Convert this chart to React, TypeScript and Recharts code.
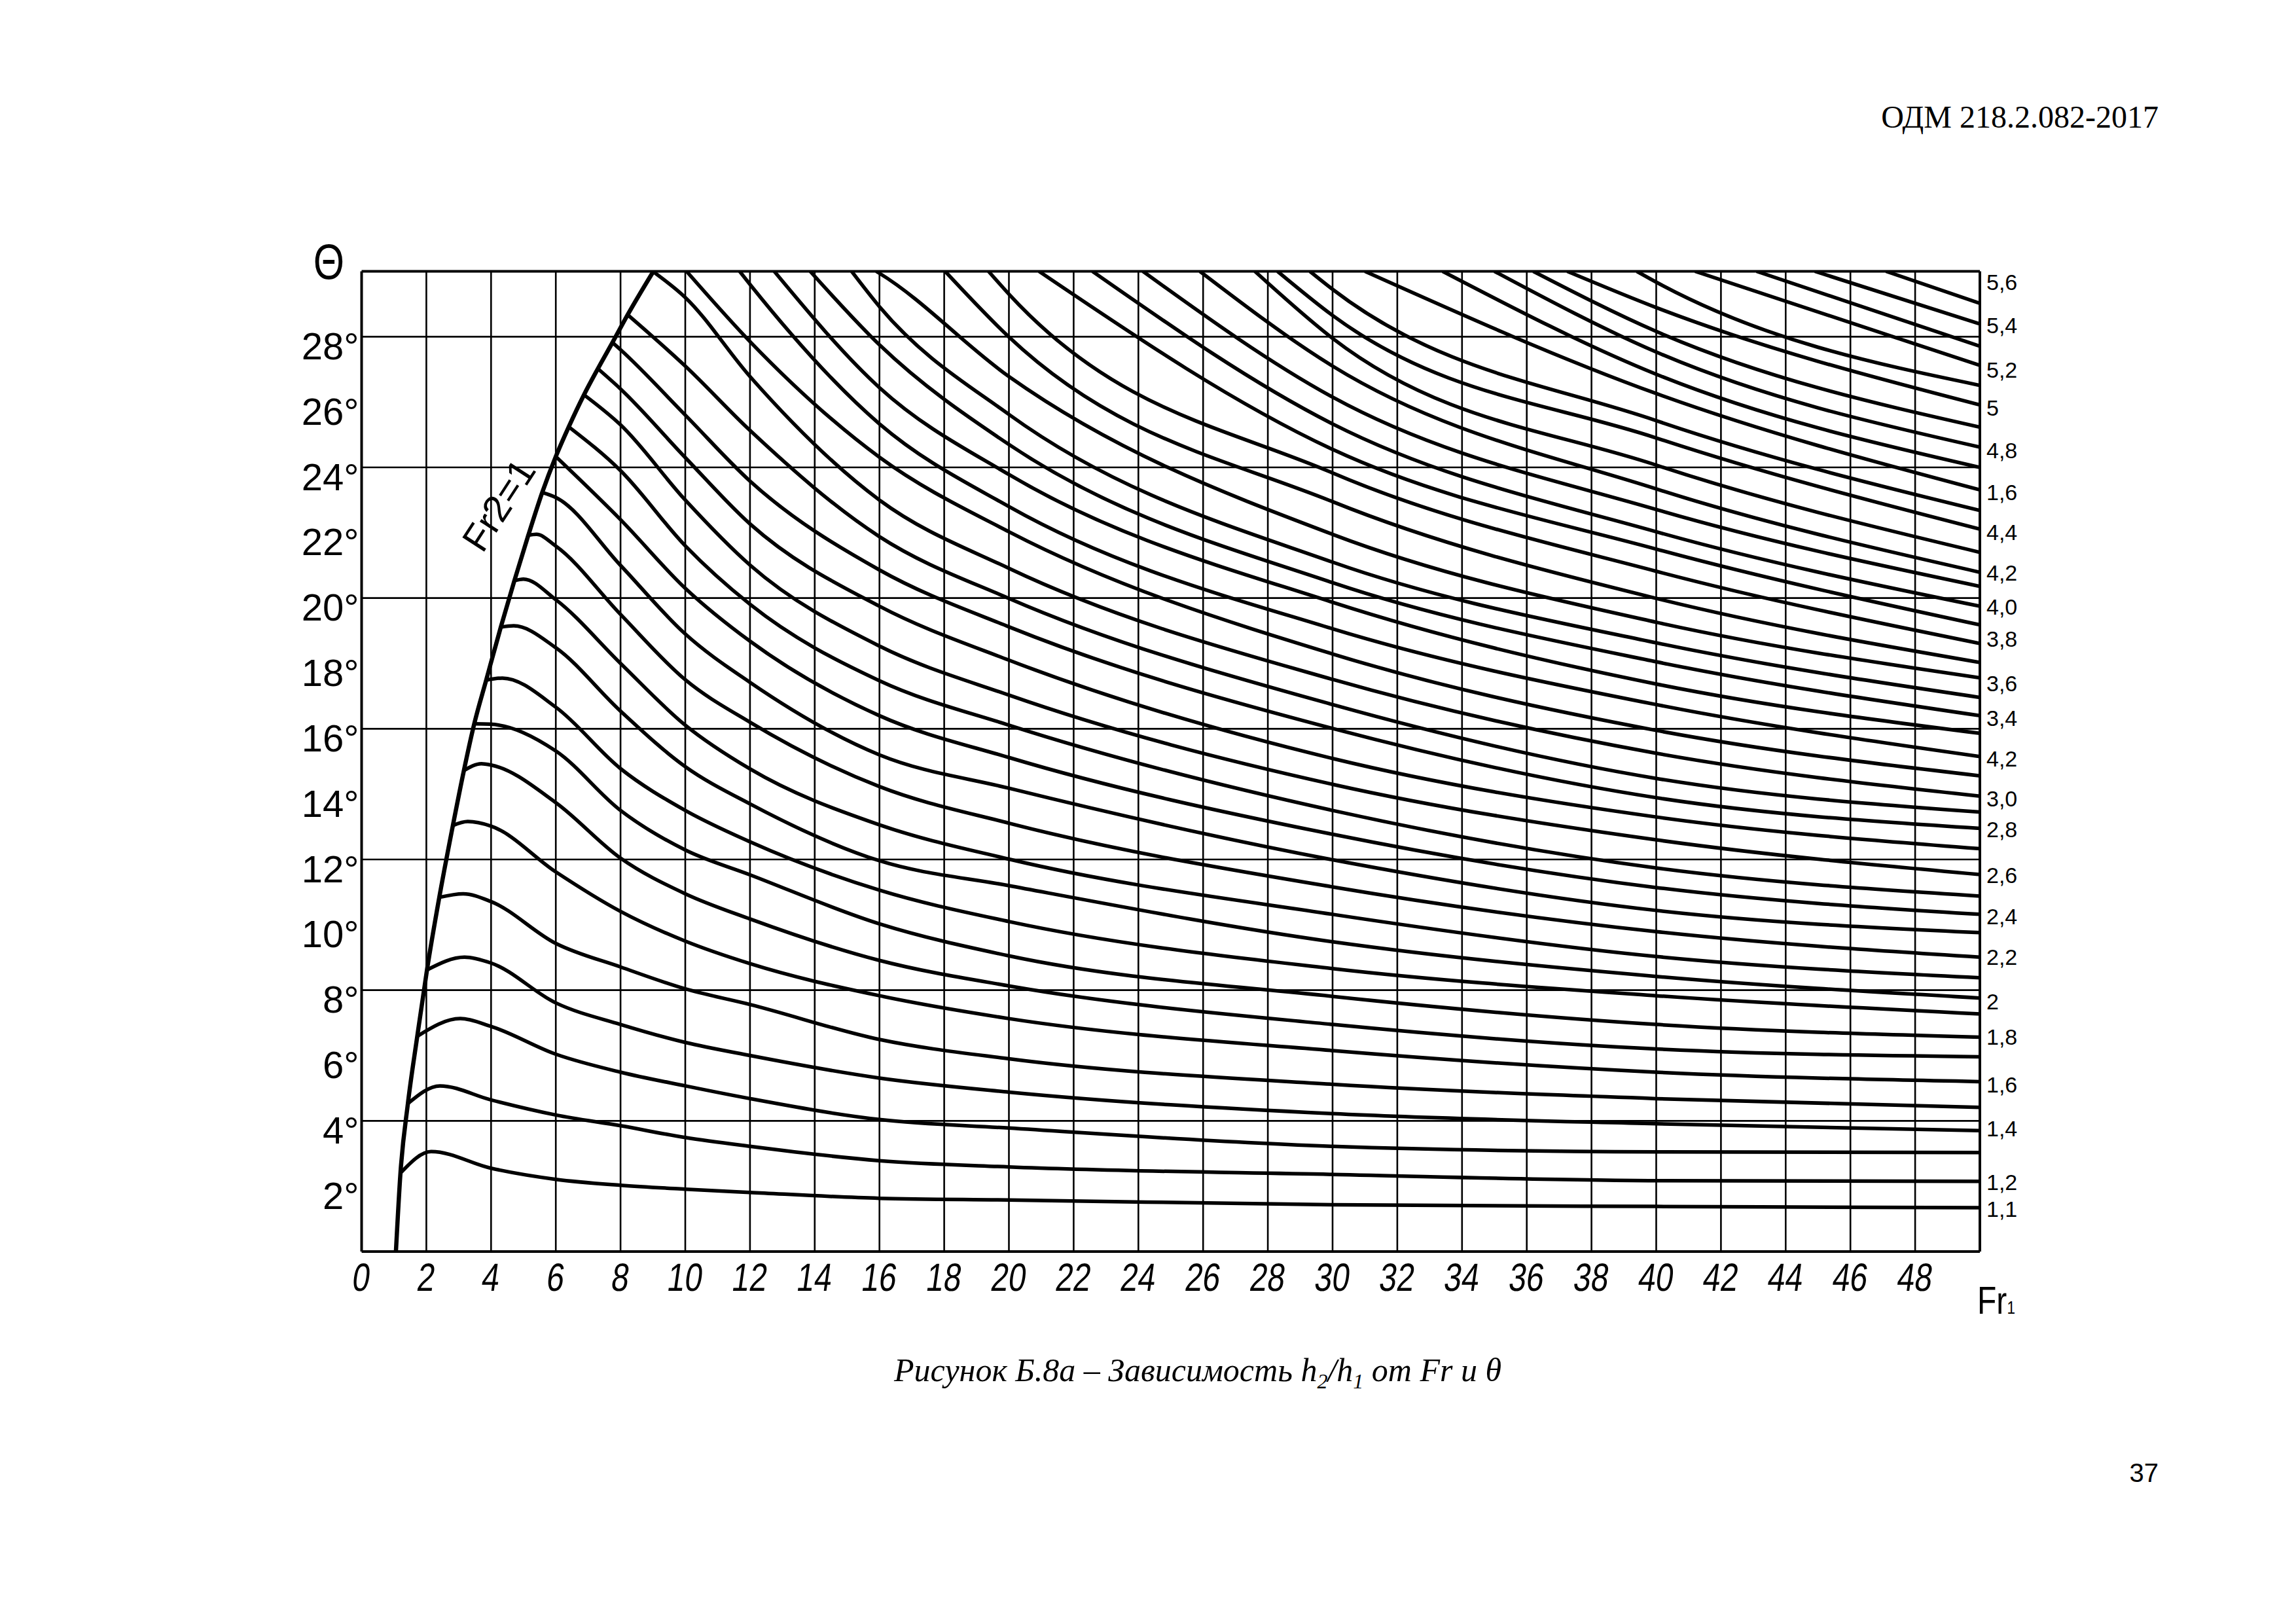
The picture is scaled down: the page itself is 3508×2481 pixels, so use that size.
import React from 'react'
import { LineChart, Line, XAxis, YAxis, ReferenceLine, ReferenceDot } from 'recharts'

// Fr2 = 1 boundary: foot on the axis, then the points where the h2/h1 curves leave it
const BOUNDARY_FR = [1.06, 1.2, 1.43, 1.72, 2.02, 2.4, 2.82, 3.16, 3.48, 3.85, 4.3, 4.72, 5.15, 5.58, 6.0, 6.4, 6.87, 7.3, 7.75, 8.22, 9.01]
const BOUNDARY_THETA = [0, 2.4, 4.53, 6.59, 8.62, 10.84, 13.04, 14.72, 16.15, 17.49, 19.11, 20.53, 21.92, 23.23, 24.33, 25.24, 26.22, 27.02, 27.82, 28.67, 29.99]

// curves 21..45 come in through the top border (theta = 30) at these Fr
const TOP_ENTRY_FR = [10.04, 11.68, 12.75, 13.86, 15.14, 15.9, 18.03, 19.37, 20.93, 22.58, 24.14, 25.9, 27.6, 28.3, 29.3, 31.0, 33.4, 35.0, 36.2, 37.25, 39.4, 41.2, 43.1, 44.9, 47.1]

// humps of the lower curves
const PEAK_FR = [2.15, 2.42, 3.05, 3.18, 3.14, 3.28, 3.7, 3.96, 4.35, 4.7, 5.0, 5.4]
const PEAK_THETA = [3.06, 5.07, 7.13, 9.01, 10.95, 13.16, 14.93, 16.14, 17.55, 19.15, 20.58, 21.95]

// theta read at fixed Fr columns, curves counted from the bottom
const COL_FR = [4, 6, 8, 10, 12, 16, 20, 30, 40, 50]
const THETA_FR4 = [2.55, 4.64, 6.89, 8.83, 10.71, 13.02, 14.89]
const THETA_FR6 = [2.21, 4.18, 6.04, 7.61, 9.43, 11.62, 13.74, 15.32, 16.66, 18.48, 19.95, 21.59, 23.08]
const THETA_FR8 = [2.03, 3.85, 5.49, 6.95, 8.71, 10.41, 12.04, 13.5, 14.78, 16.54, 18.0, 19.5, 21.0, 22.4, 23.9, 25.3, 26.4, 27.6]
const THETA_FR10 = [1.91, 3.49, 5.07, 6.4, 8.04, 9.5, 10.95, 12.29, 13.5, 14.84, 16.11, 17.5, 18.9, 20.3, 21.6, 23.0, 24.3, 25.6, 27.1, 29.2]
const THETA_FR12 = [1.81, 3.22, 4.68, 6.0, 7.56, 8.81, 10.18, 11.53, 12.54, 13.7, 14.77, 16.2, 17.42, 18.68, 19.81, 21.01, 22.27, 23.58, 25.13, 26.78, 27.85, 29.6]
const THETA_FR16 = [1.63, 2.78, 4.04, 5.31, 6.49, 7.83, 8.91, 10.03, 11.06, 11.96, 13.06, 14.23, 15.2, 16.4, 17.47, 18.53, 19.75, 20.86, 21.88, 23.0, 24.31, 25.33, 26.44, 27.75, 28.92, 29.94]
const THETA_FR20 = [1.58, 2.59, 3.78, 4.88, 5.9, 7.13, 8.13, 9.05, 10.1, 11.2, 12.01, 13.11, 14.18, 15.12, 16.11, 17.03, 18.1, 19.12, 19.99, 20.91, 22.03, 22.8, 23.78, 24.7, 25.62, 26.78, 27.99, 29.3]
const THETA_FR30 = [1.43, 2.36, 3.22, 4.22, 5.12, 6.15, 6.95, 7.81, 8.66, 9.48, 10.32, 11.16, 11.99, 12.77, 13.5, 14.3, 15.09, 16.01, 16.74, 17.51, 18.29, 19.06, 19.87, 20.47, 21.1, 21.95, 22.95, 23.83, 24.55, 25.33, 26.15, 27.1, 27.95, 28.65, 29.45]
const THETA_FR40 = [1.38, 2.17, 3.05, 3.91, 4.68, 5.49, 6.2, 6.95, 7.83, 8.42, 9.03, 9.79, 10.44, 11.14, 11.74, 12.6, 13.3, 13.89, 14.48, 15.25, 15.95, 16.74, 17.37, 18.05, 18.63, 19.26, 19.99, 20.82, 21.5, 22.03, 22.71, 23.34, 24.07, 24.9, 25.43, 26.26, 26.85, 27.53, 28.16, 28.89, 29.67]
const THETA_FR50 = [1.34, 2.15, 3.03, 3.7, 4.41, 5.2, 5.96, 6.56, 7.27, 7.76, 8.38, 9.01, 9.76, 10.32, 10.88, 11.54, 12.33, 12.95, 13.45, 13.94, 14.56, 15.15, 15.86, 16.4, 16.96, 17.56, 18.03, 18.61, 19.18, 19.75, 20.36, 20.79, 21.4, 22.11, 22.68, 23.31, 24.0, 24.62, 25.23, 25.91, 26.51, 27.12, 27.71, 28.39, 29.02]
const COLUMNS = [THETA_FR4, THETA_FR6, THETA_FR8, THETA_FR10, THETA_FR12, THETA_FR16, THETA_FR20, THETA_FR30, THETA_FR40, THETA_FR50]

const X_TICKS = [0, 2, 4, 6, 8, 10, 12, 14, 16, 18, 20, 22, 24, 26, 28, 30, 32, 34, 36, 38, 40, 42, 44, 46, 48]
const Y_TICKS = [2, 4, 6, 8, 10, 12, 14, 16, 18, 20, 22, 24, 26, 28]
const V_GRID = [2, 4, 6, 8, 10, 12, 14, 16, 18, 20, 22, 24, 26, 28, 30, 32, 34, 36, 38, 40, 42, 44, 46, 48]
const H_GRID = [4, 8, 12, 16, 20, 24, 28]

// h2/h1 labels on the right edge (printed as in the original)
const RIGHT_TICK_POS = [29.66, 28.35, 26.98, 25.83, 24.52, 23.24, 22.02, 20.77, 19.73, 18.75, 17.39, 16.33, 15.09, 13.87, 12.93, 11.52, 10.25, 9.02, 7.66, 6.58, 5.11, 3.76, 2.13, 1.31]
const RIGHT_TICK_LABELS = ['5,6', '5,4', '5,2', '5', '4,8', '1,6', '4,4', '4,2', '4,0', '3,8', '3,6', '3,4', '4,2', '3,0', '2,8', '2,6', '2,4', '2,2', '2', '1,8', '1,6', '1,4', '1,2', '1,1']

const SANS = '"Liberation Sans", Arial, sans-serif'
const SERIF = '"Liberation Serif", "Times New Roman", serif'

type Pt = { fr: number; t: number }

const nBoundary = BOUNDARY_FR.length - 1

function buildCurve(k: number): Pt[] {
  const start =
    k < nBoundary
      ? { fr: BOUNDARY_FR[k + 1], t: BOUNDARY_THETA[k + 1] }
      : { fr: TOP_ENTRY_FR[k - nBoundary], t: 30 }
  const pts: Pt[] = [start]
  let last = start.fr
  if (k < PEAK_FR.length) {
    pts.push({ fr: PEAK_FR[k], t: PEAK_THETA[k] })
    last = PEAK_FR[k]
  }
  COL_FR.forEach((fr, j) => {
    const col = COLUMNS[j]
    if (k < col.length && fr > last) pts.push({ fr, t: col[k] })
  })
  return pts
}

const BOUNDARY: Pt[] = BOUNDARY_FR.map((fr, i) => ({ fr, t: BOUNDARY_THETA[i] }))
const CURVES: Pt[][] = THETA_FR50.map((_, k) => buildCurve(k))

function XTick(props: any) {
  const { x, y, payload } = props
  return (
    <g transform={`translate(${x},${y + 40}) skewX(-8) scale(0.8,1)`}>
      <text textAnchor="middle" dominantBaseline="central" fontSize={60} fontFamily={SANS} fill="#000">
        {payload.value}
      </text>
    </g>
  )
}

function YTick(props: any) {
  const { x, y, payload } = props
  return (
    <text x={x} y={y + 14} textAnchor="end" dominantBaseline="central" fontSize={58} fontFamily={SANS} fill="#000">
      {payload.value}°
    </text>
  )
}

function RTick(props: any) {
  const { x, y, payload } = props
  const i = RIGHT_TICK_POS.indexOf(payload.value)
  return (
    <text x={x} y={y} textAnchor="start" dominantBaseline="central" fontSize={34} fontFamily={SANS} fill="#000">
      {RIGHT_TICK_LABELS[i]}
    </text>
  )
}

function ThetaLabel(props: any) {
  const vb = props.viewBox
  const cx = vb.x + vb.width - 50
  return (
    <g transform={`translate(${cx},${vb.y - 14}) scale(0.8,1)`}>
      <text textAnchor="middle" dominantBaseline="central" fontSize={76} fontFamily={SANS} fill="#000">
        Θ
      </text>
    </g>
  )
}

function FrLabel(props: any) {
  const vb = props.viewBox
  const x0 = vb.x + vb.width - 4
  const y0 = vb.y + 95
  return (
    <g transform={`translate(${x0},${y0}) scale(0.8,1)`}>
      <text x={0} y={0} fontSize={60} fontFamily={SANS} fill="#000">Fr</text>
      <text x={57} y={0} fontSize={28} fontFamily={SANS} fill="#000">1</text>
    </g>
  )
}

function BoundaryLabel(props: any) {
  const vb = props.viewBox
  const cx = vb.x + vb.width / 2
  const cy = vb.y + vb.height / 2
  return (
    <text
      x={cx}
      y={cy}
      transform={`rotate(-57 ${cx} ${cy})`}
      textAnchor="middle"
      dominantBaseline="central"
      fontSize={58}
      fontFamily={SANS}
      fill="#000"
    >
      Fr2=1
    </text>
  )
}

export default function App() {
  return (
    <div style={{ position: 'absolute', left: 0, top: 0, width: 3508, height: 2481, background: '#fff', overflow: 'hidden' }}>
      <div style={{ position: 'absolute', right: 210, top: 155, fontFamily: SERIF, fontSize: 48, lineHeight: 1, color: '#000' }}>
        ОДМ 218.2.082-2017
      </div>

      <div style={{ position: 'absolute', left: 0, top: 0 }}>
        <LineChart width={3508} height={2050} margin={{ top: 414.5, right: 373, bottom: 58, left: 432.5 }}>
          <XAxis
            dataKey="fr"
            type="number"
            domain={[0, 50]}
            allowDataOverflow
            ticks={X_TICKS}
            interval={0}
            tickLine={false}
            tickSize={0}
            tickMargin={0}
            height={80}
            axisLine={{ stroke: '#000', strokeWidth: 4 }}
            tick={<XTick />}
            label={<FrLabel />}
          />
          <YAxis
            type="number"
            domain={[0, 30]}
            allowDataOverflow
            ticks={Y_TICKS}
            interval={0}
            width={120}
            tickLine={false}
            tickSize={0}
            tickMargin={4}
            axisLine={{ stroke: '#000', strokeWidth: 4 }}
            tick={<YTick />}
            label={<ThetaLabel />}
          />
          <YAxis
            yAxisId="r"
            orientation="right"
            type="number"
            domain={[0, 30]}
            allowDataOverflow
            ticks={RIGHT_TICK_POS}
            interval={0}
            width={110}
            tickLine={false}
            tickSize={0}
            tickMargin={10}
            axisLine={{ stroke: '#000', strokeWidth: 4 }}
            tick={<RTick />}
          />

          {V_GRID.map((v) => (
            <ReferenceLine key={'v' + v} x={v} stroke="#000" strokeWidth={2.6} />
          ))}
          {H_GRID.map((v) => (
            <ReferenceLine key={'h' + v} y={v} stroke="#000" strokeWidth={2.6} />
          ))}
          <ReferenceLine y={30} stroke="#000" strokeWidth={4} />

          <Line
            data={BOUNDARY}
            dataKey="t"
            type="monotone"
            stroke="#000"
            strokeWidth={6.5}
            dot={false}
            activeDot={false}
            isAnimationActive={false}
          />
          {CURVES.map((c, i) => (
            <Line
              key={'c' + i}
              data={c}
              dataKey="t"
              type="monotone"
              stroke="#000"
              strokeWidth={5.5}
              dot={false}
              activeDot={false}
              isAnimationActive={false}
            />
          ))}

          <ReferenceDot x={4.23} y={22.85} r={1} fill="none" stroke="none" label={<BoundaryLabel />} />
        </LineChart>
      </div>

      <div
        style={{
          position: 'absolute',
          left: 0,
          width: 3660,
          top: 2068,
          textAlign: 'center',
          fontFamily: SERIF,
          fontStyle: 'italic',
          fontSize: 50,
          lineHeight: 1,
          color: '#000',
        }}
      >
        Рисунок Б.8а – Зависимость h<sub style={{ fontSize: 32 }}>2</sub>/h<sub style={{ fontSize: 32 }}>1</sub> от Fr и θ
      </div>

      <div style={{ position: 'absolute', right: 210, top: 2230, fontFamily: SANS, fontSize: 40, lineHeight: 1, color: '#000' }}>
        37
      </div>
    </div>
  )
}
